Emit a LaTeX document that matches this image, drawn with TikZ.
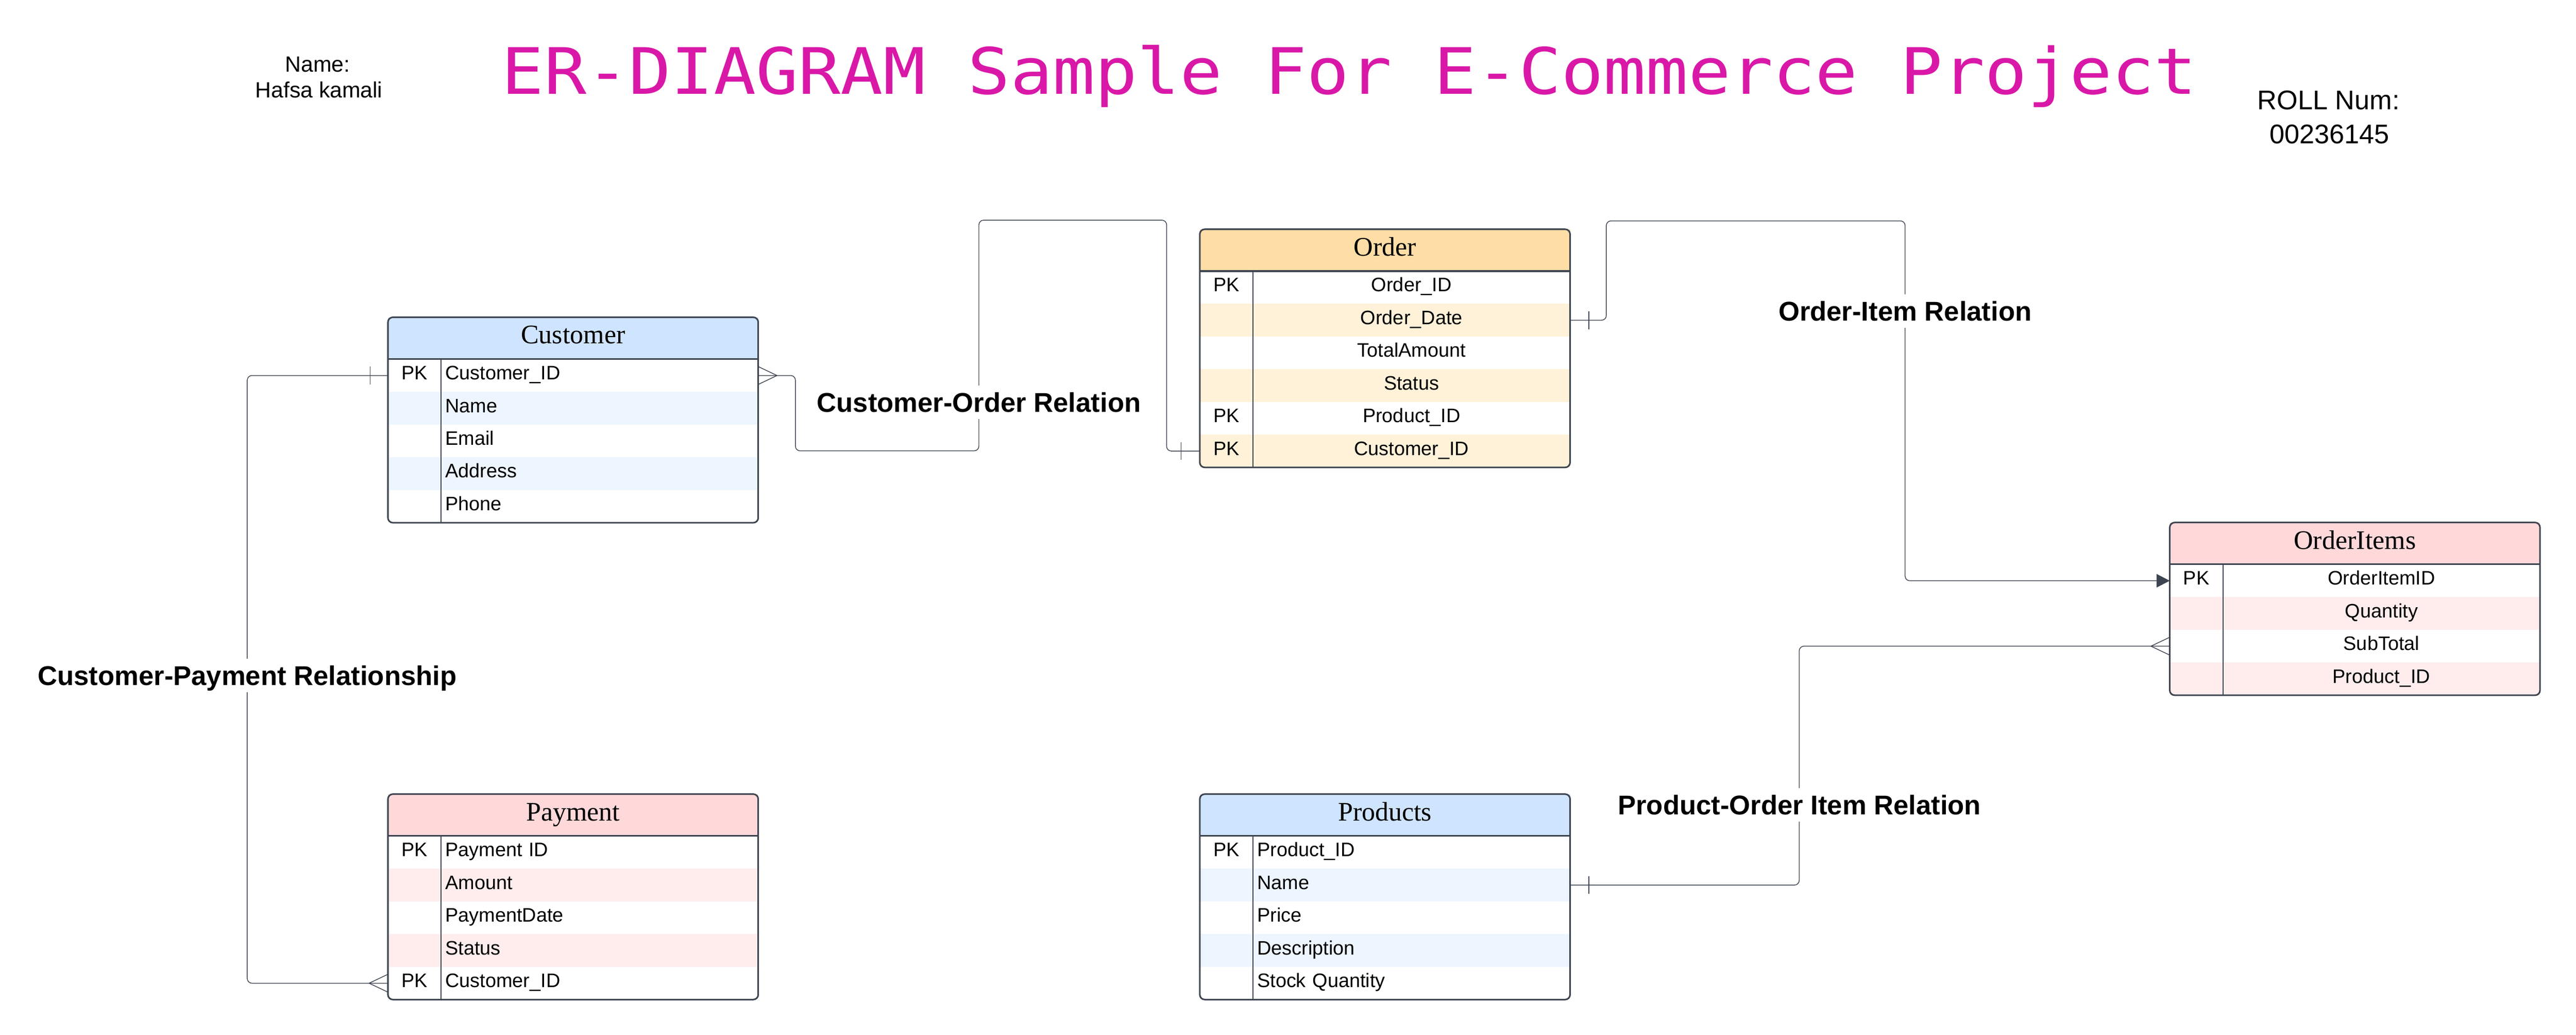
\documentclass[tikz,border=0pt]{standalone}
\usepackage{fontspec}
\setmainfont{Liberation Sans}
\newfontfamily\serifhd{Liberation Serif}
\newfontfamily\monottl[FakeStretch=1.1]{DejaVu Sans Mono}
\usetikzlibrary{positioning,arrows.meta}

\definecolor{edge}{HTML}{3D4450}
\definecolor{bluehd}{HTML}{CFE4FF}
\definecolor{bluerow}{HTML}{EDF5FF}
\definecolor{orghd}{HTML}{FFDDA6}
\definecolor{orgrow}{HTML}{FFF2D9}
\definecolor{pinkhd}{HTML}{FFD8DA}
\definecolor{pinkrow}{HTML}{FFEDED}
\definecolor{ttlpink}{HTML}{D918A8}

\tikzstyle{hdr} = [rectangle, minimum width=7.87cm, minimum height=0.89cm, inner sep=0pt, outer sep=0pt,
text height=10.7pt, text depth=4pt, font=\serifhd\fontsize{16.2}{18}\selectfont]
\tikzstyle{fld} = [rectangle, minimum width=7.87cm, minimum height=0.695cm, inner sep=0pt, outer sep=0pt,
text width=5.43cm, align=left, text height=8.4pt, text depth=3.4pt, font=\fontsize{11.8}{14}\selectfont]
\tikzstyle{fldc} = [rectangle, minimum width=7.87cm, minimum height=0.695cm, inner sep=0pt, outer sep=0pt,
text height=8.4pt, text depth=3.4pt, font=\fontsize{11.8}{14}\selectfont,
execute at begin node={\hspace*{1.13cm}}]
\tikzstyle{pkcell} = [rectangle, minimum width=1.13cm, inner sep=0pt, outer sep=0pt, anchor=west,
text height=8.4pt, text depth=3.4pt, font=\fontsize{11.8}{14}\selectfont]
\tikzstyle{tblframe} = [draw=edge, line width=0.95pt, rounded corners=3pt]
\tikzstyle{colsep} = [draw=edge, line width=0.6pt]
\tikzstyle{conn} = [draw=edge, line width=0.45pt, rounded corners=0.1cm]
\tikzstyle{crow} = [draw=edge, line width=0.45pt]
\tikzstyle{rel} = [fill=white, inner xsep=2pt, inner ysep=0pt, minimum height=0.71cm,
text height=11.7pt, text depth=0pt, font=\bfseries\fontsize{16.4}{19}\selectfont]
\tikzstyle{info} = [anchor=base, inner sep=0pt]

\begin{document}
\begin{tikzpicture}
\path[fill=white, use as bounding box] (0,0) rectangle (54.75,-21.98);

% title and student
\node (ttl)[info, text=ttlpink, font=\monottl\fontsize{38.7}{40}\selectfont] at (28.68,-2.00)
  {ER-DIAGRAM Sample For E-Commerce Project};
\node (nm)[info, font=\fontsize{13.3}{15}\selectfont] at (6.75,-1.53){Name:};
\node (nmv)[info, font=\fontsize{13.3}{15}\selectfont] at (6.78,-2.07){Hafsa kamali};
\node (roll)[info, font=\fontsize{16.3}{18}\selectfont] at (49.49,-2.33){ROLL Num:};
\node (rollv)[info, font=\fontsize{16.3}{18}\selectfont] at (49.51,-3.05){00236145};

% Customer
\node (cus)[hdr, fill=bluehd] at (12.18,-7.185){Customer};
\node (cus1)[fld, fill=white, below=0pt of cus]{Customer\_ID};
\node (cus2)[fld, fill=bluerow, below=0pt of cus1]{Name};
\node (cus3)[fld, fill=white, below=0pt of cus2]{Email};
\node (cus4)[fld, fill=bluerow, below=0pt of cus3]{Address};
\node (cus5)[fld, fill=white, below=0pt of cus4]{Phone};
\node (cus1pk)[pkcell] at (cus1.west){PK};

% Payment
\node (pay)[hdr, fill=pinkhd] at (12.18,-17.315){Payment};
\node (pay1)[fld, fill=white, below=0pt of pay]{Payment ID};
\node (pay2)[fld, fill=pinkrow, below=0pt of pay1]{Amount};
\node (pay3)[fld, fill=white, below=0pt of pay2]{PaymentDate};
\node (pay4)[fld, fill=pinkrow, below=0pt of pay3]{Status};
\node (pay5)[fld, fill=white, below=0pt of pay4]{Customer\_ID};
\node (pay1pk)[pkcell] at (pay1.west){PK};
\node (pay5pk)[pkcell] at (pay5.west){PK};

% Order
\node (ord)[hdr, fill=orghd] at (29.435,-5.315){Order};
\node (ord1)[fldc, fill=white, below=0pt of ord]{Order\_ID};
\node (ord2)[fldc, fill=orgrow, below=0pt of ord1]{Order\_Date};
\node (ord3)[fldc, fill=white, below=0pt of ord2]{TotalAmount};
\node (ord4)[fldc, fill=orgrow, below=0pt of ord3]{Status};
\node (ord5)[fldc, fill=white, below=0pt of ord4]{Product\_ID};
\node (ord6)[fldc, fill=orgrow, below=0pt of ord5]{Customer\_ID};
\node (ord1pk)[pkcell] at (ord1.west){PK};
\node (ord5pk)[pkcell] at (ord5.west){PK};
\node (ord6pk)[pkcell] at (ord6.west){PK};

% Products
\node (prd)[hdr, fill=bluehd] at (29.435,-17.315){Products};
\node (prd1)[fld, fill=white, below=0pt of prd]{Product\_ID};
\node (prd2)[fld, fill=bluerow, below=0pt of prd1]{Name};
\node (prd3)[fld, fill=white, below=0pt of prd2]{Price};
\node (prd4)[fld, fill=bluerow, below=0pt of prd3]{Description};
\node (prd5)[fld, fill=white, below=0pt of prd4]{Stock Quantity};
\node (prd1pk)[pkcell] at (prd1.west){PK};

% OrderItems
\node (oi)[hdr, fill=pinkhd] at (50.05,-11.545){OrderItems};
\node (oi1)[fldc, fill=white, below=0pt of oi]{OrderItemID};
\node (oi2)[fldc, fill=pinkrow, below=0pt of oi1]{Quantity};
\node (oi3)[fldc, fill=white, below=0pt of oi2]{SubTotal};
\node (oi4)[fldc, fill=pinkrow, below=0pt of oi3]{Product\_ID};
\node (oi1pk)[pkcell] at (oi1.west){PK};

% frames
\draw[tblframe] (cus.north west) rectangle (cus5.south east);
\draw[tblframe] (cus.south west) -- (cus.south east);
\draw[colsep] ([xshift=1.13cm]cus.south west) -- ([xshift=1.13cm]cus5.south west);
\draw[tblframe] (pay.north west) rectangle (pay5.south east);
\draw[tblframe] (pay.south west) -- (pay.south east);
\draw[colsep] ([xshift=1.13cm]pay.south west) -- ([xshift=1.13cm]pay5.south west);
\draw[tblframe] (ord.north west) rectangle (ord6.south east);
\draw[tblframe] (ord.south west) -- (ord.south east);
\draw[colsep] ([xshift=1.13cm]ord.south west) -- ([xshift=1.13cm]ord6.south west);
\draw[tblframe] (prd.north west) rectangle (prd5.south east);
\draw[tblframe] (prd.south west) -- (prd.south east);
\draw[colsep] ([xshift=1.13cm]prd.south west) -- ([xshift=1.13cm]prd5.south west);
\draw[tblframe] (oi.north west) rectangle (oi4.south east);
\draw[tblframe] (oi.south west) -- (oi.south east);
\draw[colsep] ([xshift=1.13cm]oi.south west) -- ([xshift=1.13cm]oi4.south west);

% relations
\draw[conn] (cus1.east) -- ++(0.79,0) |- ++(3.90,-1.60) |- ++(3.99,4.90) |- (ord6.west);
\draw[conn, -{Triangle[length=0.28cm, width=0.285cm]}] (ord2.east) -- ++(0.77,0) |- ++(6.35,2.11) |- (oi1.west);
\draw[conn] (prd2.east) -- ++(4.87,0) |- (oi3.west);
\draw[conn] (cus1.west) -- ++(-2.99,0) |- (pay5.west);

% crow feet and bars
\draw[crow] ([yshift=0.19cm]cus1.east) -- ([xshift=0.4cm]cus1.east) -- ([yshift=-0.19cm]cus1.east);
\draw[crow] ([yshift=0.19cm]oi3.west) -- ([xshift=-0.4cm]oi3.west) -- ([yshift=-0.19cm]oi3.west);
\draw[crow] ([yshift=0.19cm]pay5.west) -- ([xshift=-0.4cm]pay5.west) -- ([yshift=-0.19cm]pay5.west);
\draw[crow] ([xshift=-0.4cm,yshift=0.19cm]ord6.west) -- ([xshift=-0.4cm,yshift=-0.19cm]ord6.west);
\draw[crow] ([xshift=0.4cm,yshift=0.19cm]ord2.east) -- ([xshift=0.4cm,yshift=-0.19cm]ord2.east);
\draw[crow] ([xshift=0.4cm,yshift=0.19cm]prd2.east) -- ([xshift=0.4cm,yshift=-0.19cm]prd2.east);
\draw[crow] ([xshift=-0.38cm,yshift=0.19cm]cus1.west) -- ([xshift=-0.38cm,yshift=-0.19cm]cus1.west);

\node (coRel)[rel] at (20.805,-8.55){Customer-Order Relation};
\node (oiRel)[rel] at (40.49,-6.61){Order-Item Relation};
\node (poiRel)[rel] at (38.245,-17.10){Product-Order Item Relation};
\node (cpRel)[rel] at (5.255,-14.35){Customer-Payment Relationship};
\end{tikzpicture}
\end{document}
